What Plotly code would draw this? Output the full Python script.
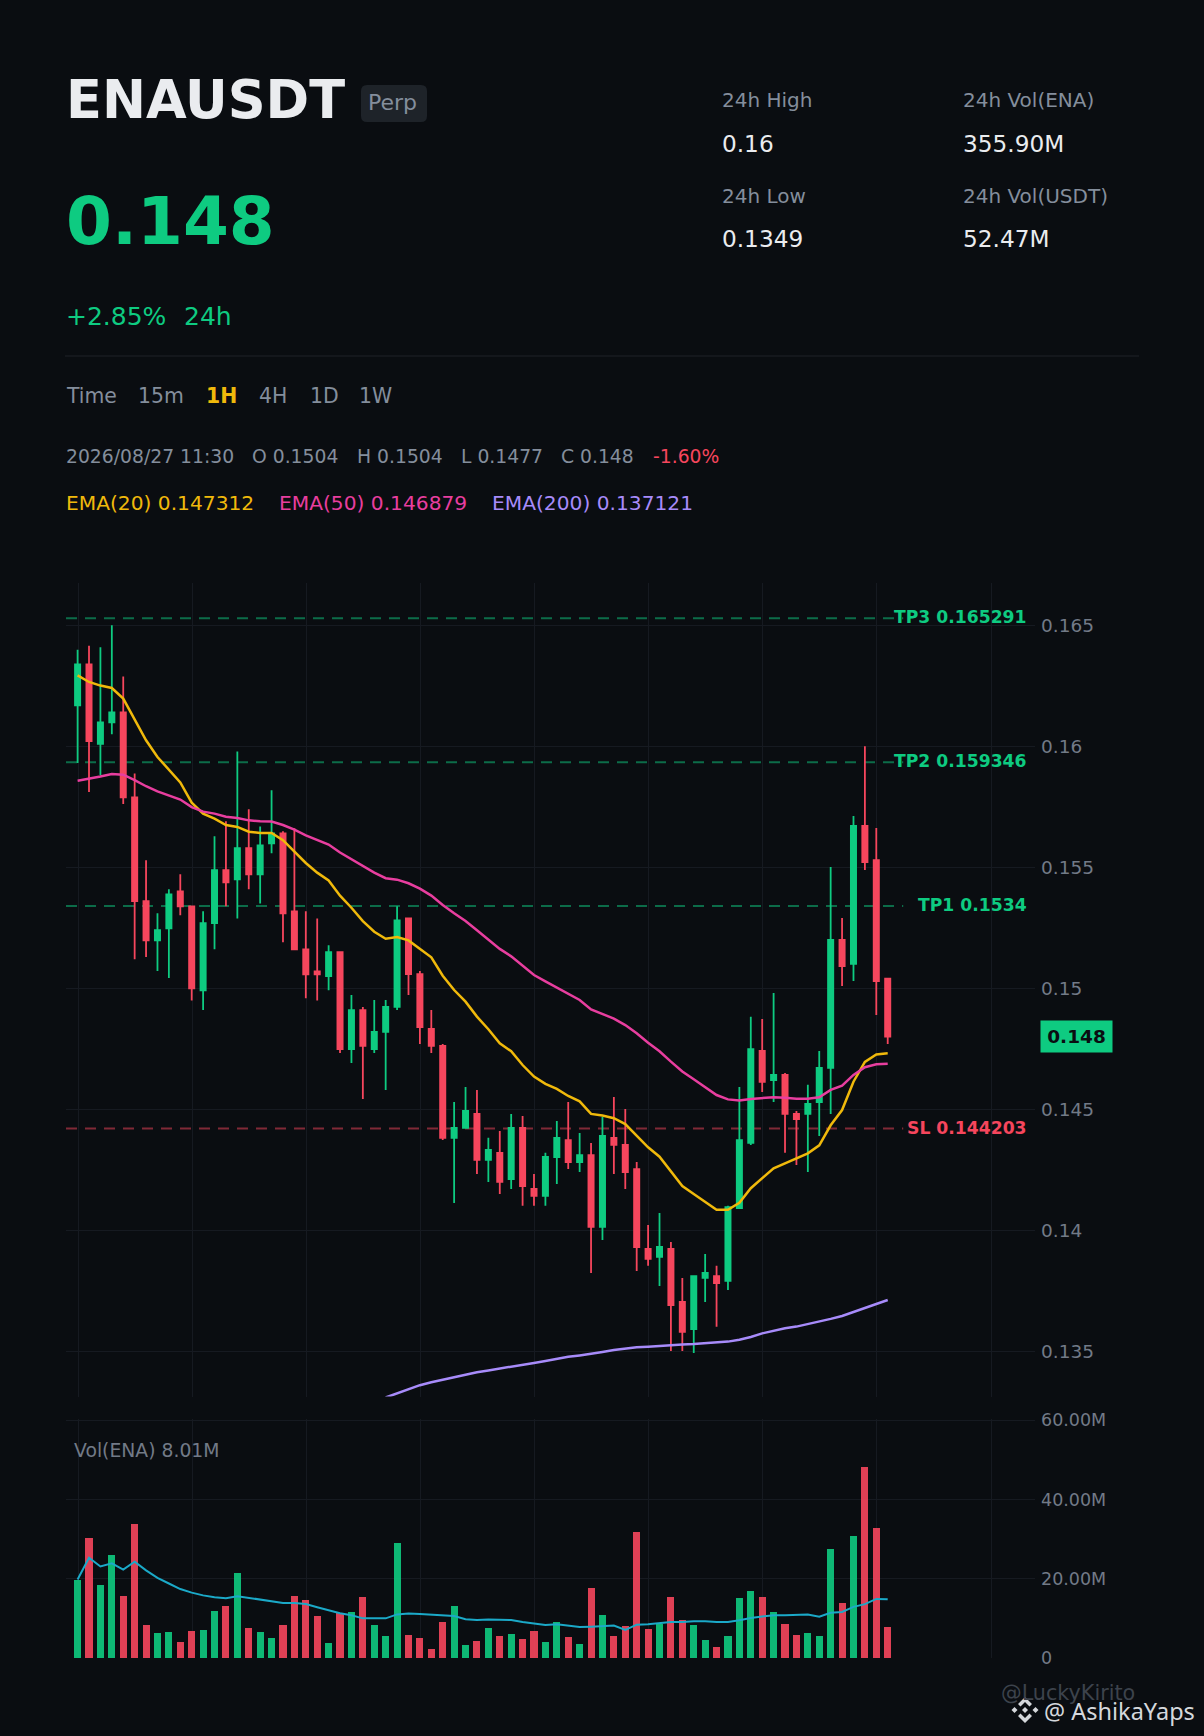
import plotly.graph_objects as go

W, H = 1204, 1736
idx = list(range(72))
opens = [.16169,.16339,.16010,.16099,.16140,.15789,.15360,.15198,.15248,.15401,.15339,.14992,.15269,.15488,.15450,.15579,.15471,.15599,.15640,.15318,.15161,.15070,.15050,.15149,
         .14749,.14910,.14749,.14820,.14923,.15289,.15059,.14832,.14762,.14382,.14423,.14481,.14291,.14320,.14212,.14423,.14171,.14142,.14303,.14373,.14282,.14311,.14014,.14382,
         .14353,.14253,.13923,.13890,.13923,.13704,.13592,.13803,.13811,.13791,.14092,.14361,.14741,.14621,.14642,.14481,.14481,.14530,.14671,.15200,.15101,.15671,.15530,.15040]
highs = [.16399,.16416,.16409,.16500,.16289,.15888,.15529,.15310,.15409,.15471,.15339,.15318,.15628,.15690,.15979,.15740,.15669,.15818,.15649,.15661,.15318,.15289,.15178,.15149,
         .14972,.14923,.14952,.14952,.15339,.15289,.15072,.14910,.14770,.14530,.14592,.14580,.14382,.14410,.14481,.14472,.14233,.14320,.14452,.14530,.14402,.14361,.14468,.14551,
         .14501,.14282,.14022,.14072,.13952,.13803,.13811,.13902,.13853,.14101,.14592,.14882,.14873,.14981,.14650,.14493,.14601,.14741,.15501,.15291,.15712,.16000,.15663,.15040]
lows = [.15931,.15811,.15880,.16050,.15762,.15120,.15129,.15072,.15043,.15302,.14950,.14910,.15161,.15339,.15289,.15409,.15351,.15558,.15190,.15161,.14959,.14950,.14992,.14733,
        .14691,.14543,.14733,.14580,.14910,.14972,.14770,.14733,.14373,.14113,.14423,.14233,.14200,.14150,.14171,.14101,.14101,.14101,.14191,.14253,.14241,.13824,.13960,.14233,
        .14171,.13832,.13853,.13770,.13501,.13501,.13493,.13704,.13601,.13753,.14092,.14353,.14572,.14530,.14320,.14270,.14241,.14390,.14481,.15010,.15030,.15489,.14890,.14770]
closes = [.16339,.16022,.16099,.16140,.15789,.15360,.15198,.15240,.15388,.15339,.15000,.15269,.15488,.15438,.15579,.15471,.15591,.15640,.15310,.15161,.15058,.15058,.15149,.14749,
          .14910,.14762,.14820,.14923,.15281,.15059,.14840,.14762,.14382,.14423,.14493,.14291,.14332,.14200,.14423,.14183,.14142,.14303,.14382,.14282,.14311,.14014,.14390,.14353,
          .14241,.13931,.13882,.13931,.13691,.13580,.13811,.13824,.13782,.14096,.14373,.14749,.14613,.14642,.14481,.14460,.14522,.14671,.15200,.15092,.15671,.15522,.15030,.14800]
ema20 = [.16293,.16266,.16251,.16241,.16197,.16112,.16025,.15956,.15905,.15851,.15767,.15722,.15701,.15675,.15667,.15647,.15642,.15642,.15612,.15563,.15518,.15478,.15446,.15383,
         .15333,.15278,.15234,.15205,.15212,.15198,.15164,.15128,.15052,.14993,.14945,.14883,.14831,.14773,.14740,.14683,.14635,.14605,.14584,.14555,.14533,.14481,.14474,.14463,
         .14439,.14393,.14343,.14304,.14244,.14183,.14150,.14117,.14085,.14085,.14114,.14174,.14215,.14256,.14277,.14298,.14318,.14351,.14434,.14497,.14614,.14696,.14727,.147312]
ema50 = [.15858,.15865,.15875,.15886,.15883,.15860,.15835,.15814,.15798,.15780,.15749,.15730,.15722,.15709,.15704,.15694,.15690,.15689,.15675,.15656,.15632,.15612,.15594,.15561,
         .15534,.15504,.15478,.15455,.15449,.15434,.15412,.15383,.15344,.15310,.15278,.15240,.15202,.15163,.15132,.15094,.15055,.15029,.15004,.14977,.14952,.14913,.14894,.14875,
         .14848,.14814,.14775,.14740,.14697,.14656,.14624,.14592,.14559,.14541,.14536,.14543,.14545,.14550,.14548,.14544,.14544,.14550,.14580,.14598,.14642,.14674,.14686,.146879]
ema200_idx = list(range(27, 72))
ema200 = [.13309,.13325,.13343,.13360,.13372,.13383,.13394,.13404,.13413,.13421,.13428,.13438,.13445,.13452,.13460,.13470,.13477,.13483,.13489,.13497,.13505,.13512,.13517,.13519,
          .13523,.13526,.13528,.13530,.13534,.13536,.13540,.13548,.13559,.13574,.13585,.13595,.13602,.13612,.13621,.13634,.13646,.13663,.13679,.13696,.137121]
volumes = [19.8,30.5,18.6,26.2,15.8,34.0,8.5,6.5,6.7,4.2,7.0,7.2,12.0,13.3,21.6,7.7,6.7,5.2,8.5,15.8,14.8,10.8,4.0,11.5,
           11.8,15.6,8.5,5.7,29.0,6.0,5.2,2.4,9.3,13.3,3.5,4.5,7.7,5.7,6.2,5.0,7.0,4.2,9.3,5.5,3.7,17.8,11.0,5.7,
           8.2,32.0,7.5,8.8,15.6,9.8,8.5,4.7,2.9,5.7,15.3,17.1,15.6,11.8,8.8,6.0,6.5,5.7,27.7,14.1,31.0,48.4,33.0,8.01]
vol_ma = [19.8,25.3,23.1,23.9,22.3,24.3,22.1,20.2,18.8,17.4,16.5,15.8,15.3,15.1,15.6,15.2,14.7,14.3,13.9,13.9,13.6,12.8,12.0,11.3,
          10.8,10.0,10.0,10.0,11.0,11.2,11.1,10.9,10.7,10.6,9.8,9.6,9.7,9.7,9.6,9.1,8.7,8.3,8.5,8.2,7.8,7.9,8.1,8.2,
          7.1,8.4,8.5,8.8,9.1,9.1,9.3,9.3,9.1,9.1,9.5,10.1,10.5,10.8,10.8,10.9,11.0,10.4,11.4,11.6,12.9,13.6,14.9,14.8]
level_names = ["TP3", "TP2", "TP1", "SL"]
level_values = [0.165291, 0.159346, 0.1534, 0.144203]
level_text = ["0.165291", "0.159346", "0.1534", "0.144203"]
price_ticks = [0.135, 0.14, 0.145, 0.15, 0.155, 0.16, 0.165]
price_tick_labels = ["0.135", "0.14", "0.145", "0.15", "0.155", "0.16", "0.165"]
vol_ticks = [0, 20, 40, 60]
vol_tick_labels = ["0", "20.00M", "40.00M", "60.00M"]
x_grid = [0.06, 10.06, 20.06, 30.06, 40.06, 50.06, 60.06, 70.06, 80.06]
last_price = 0.148

BG = "#0A0D11"; GRID = "#161A21"
GREEN = "#0ECB81"; RED = "#F6465D"; GOLD = "#F0B90B"; PINK = "#E83E9F"; PURPLE = "#A78BFA"; CYAN = "#1BA9C8"
MUTED = "#848E9C"; FAINT = "#727A87"; LIGHT = "#EAECEF"
FONT = "DejaVu Sans"

fig = go.Figure()
fig.add_trace(go.Candlestick(
    x=idx, open=opens, high=highs, low=lows, close=closes, whiskerwidth=0,
    increasing=dict(line=dict(color=GREEN, width=1.8), fillcolor=GREEN),
    decreasing=dict(line=dict(color=RED, width=1.8), fillcolor=RED),
    showlegend=False, xaxis="x", yaxis="y"))
for name, ys, xs, col in [("EMA(20)", ema20, idx, GOLD), ("EMA(50)", ema50, idx, PINK), ("EMA(200)", ema200, ema200_idx, PURPLE)]:
    fig.add_trace(go.Scatter(x=xs, y=ys, mode="lines", name=name, line=dict(color=col, width=2.5), showlegend=False, xaxis="x", yaxis="y"))
fig.add_trace(go.Bar(
    x=idx, y=volumes, width=0.62, showlegend=False, xaxis="x2", yaxis="y2",
    marker=dict(color=[GREEN if c >= o else RED for o, c in zip(opens, closes)], opacity=0.9, line=dict(width=0))))
fig.add_trace(go.Scatter(x=idx, y=vol_ma, mode="lines", line=dict(color=CYAN, width=2), showlegend=False, xaxis="x2", yaxis="y2"))

def px(x): return x / W
def py(y): return 1 - y / H

ann = []
def text(x, base, s, size, color, bold=False, anchor="left", family=FONT):
    # positioned by baseline in page pixels
    ann.append(dict(xref="paper", yref="paper", x=px(x), y=py(base - 0.36 * size), xanchor=anchor, yanchor="middle",
                    text=f"<b>{s}</b>" if bold else s, showarrow=False, borderpad=0, borderwidth=0,
                    font=dict(family=family, size=size, color=color)))

text(66, 118, "ENAUSDT", 52.6, LIGHT, bold=True)
text(367.5, 110.5, "Perp", 22, MUTED)
text(66, 245.5, "0.148", 66, GREEN, bold=True)
text(66, 325.5, "+2.85%", 25, GREEN)
text(183.5, 325.5, "24h", 25, GREEN)
for x, lab, val, base1, base2 in [(722, "24h High", "0.16", 107, 152), (722, "24h Low", "0.1349", 203, 247),
                                  (963, "24h Vol(ENA)", "355.90M", 107, 152), (963, "24h Vol(USDT)", "52.47M", 203, 247)]:
    text(x, base1, lab, 20, MUTED)
    text(x, base2, val, 23.2, LIGHT)
for x, s, col, b in [(65.5, "Time", MUTED, False), (138, "15m", MUTED, False), (205.5, "1H", GOLD, True), (259, "4H", MUTED, False),
                     (310, "1D", MUTED, False), (359, "1W", MUTED, False)]:
    text(x, 403.5, s, 20.4, col, bold=b)
for x, s, col in [(66, "2026/08/27 11:30", MUTED), (252, "O 0.1504", MUTED), (357, "H 0.1504", MUTED), (461, "L 0.1477", MUTED),
                  (561, "C 0.148", MUTED), (653, "-1.60%", RED)]:
    text(x, 463, s, 18.75, col)
for x, s, col in [(66, "EMA(20) 0.147312", GOLD), (279, "EMA(50) 0.146879", PINK), (492, "EMA(200) 0.137121", PURPLE)]:
    text(x, 510, s, 20.2, col)
text(74, 1457, "Vol(ENA) 8.01M", 18.8, FAINT)
text(1001, 1700, "@LuckyKirito", 20.7, "#3D434C")
text(1044, 1719, "@ AshikaYaps", 23.5, "#D5D8DC", family="Noto Sans")

def rounded(x0, y0, x1, y1, r):
    pts = (f"M{px(x0+r)},{py(y0)} L{px(x1-r)},{py(y0)} Q{px(x1)},{py(y0)} {px(x1)},{py(y0+r)} "
           f"L{px(x1)},{py(y1-r)} Q{px(x1)},{py(y1)} {px(x1-r)},{py(y1)} L{px(x0+r)},{py(y1)} "
           f"Q{px(x0)},{py(y1)} {px(x0)},{py(y1-r)} L{px(x0)},{py(y0+r)} Q{px(x0)},{py(y0)} {px(x0+r)},{py(y0)} Z")
    return dict(type="path", xref="paper", yref="paper", path=pts, line=dict(width=0), fillcolor="#1E2329")

shapes = [
    dict(type="line", xref="paper", yref="paper", x0=px(65), x1=px(1139), y0=py(356), y1=py(356), line=dict(color="#1E2329", width=1)),
    rounded(361, 85, 427, 122, 6),
]
for name, v, t in zip(level_names, level_values, level_text):
    col = RED if name == "SL" else GREEN
    shapes.append(dict(type="line", xref="x domain", yref="y", x0=0, x1=0.864, y0=v, y1=v, layer="below", opacity=0.5,
                       line=dict(color=col, width=2, dash="11px,8px")))
    ann.append(dict(xref="paper", yref="y", x=px(1028), y=v, xanchor="right", yanchor="middle", yshift=1,
                    text=f"<b>{name} {t}</b>", showarrow=False, borderpad=0, font=dict(family=FONT, size=17.2, color=col)))
ann.append(dict(xref="paper", yref="y", x=px(1076.5), y=last_price, xanchor="center", yanchor="middle", width=71, height=31,
                text=f"<b>{last_price}</b>", showarrow=False, borderpad=0, bgcolor=GREEN, font=dict(family=FONT, size=18.5, color="#0A0D11")))

# Binance mark beside the watermark
lc, lt = 1025, 1710
def poly(points):
    p = "M" + " L".join(f"{px(lc+a)},{py(lt+b)}" for a, b in points) + " Z"
    return dict(type="path", xref="paper", yref="paper", path=p, line=dict(width=0), fillcolor="#D5D8DC")
for cx, r in [(0, 3), (-10.5, 3), (10.5, 3)]:
    shapes.append(poly([(cx - r, 0), (cx, -r), (cx + r, 0), (cx, r)]))
for s in (-1, 1):
    shapes.append(poly([(0, 13 * s), (7, 6 * s), (4.5, 3.5 * s), (0, 8 * s), (-4.5, 3.5 * s), (-7, 6 * s)]))

x_range = [(66 - 77.6) / 11.41, (1035 - 77.6) / 11.41]
fig.update_layout(
    width=W, height=H, margin=dict(l=0, r=0, t=0, b=0, pad=0, autoexpand=False), autosize=False,
    paper_bgcolor=BG, plot_bgcolor=BG, font=dict(family=FONT), showlegend=False, hovermode=False,
    boxgap=0.544, boxgroupgap=0, bargap=0,
    xaxis=dict(domain=[px(66), px(1035)], range=x_range, tickvals=x_grid, showticklabels=False, showgrid=True, gridcolor=GRID, gridwidth=1,
               zeroline=False, rangeslider=dict(visible=False), anchor="y"),
    yaxis=dict(domain=[py(1396.5), py(582.5)], range=[0.133132, 0.16677], side="right", anchor="x", tickvals=price_ticks, ticktext=price_tick_labels,
               showgrid=True, gridcolor=GRID, gridwidth=1, showline=False, zeroline=False, ticks="",
               tickfont=dict(family=FONT, size=18.5, color=FAINT), ticklabelstandoff=5),
    xaxis2=dict(domain=[px(66), px(1035)], range=x_range, tickvals=x_grid, showticklabels=False, showgrid=True, gridcolor=GRID, gridwidth=1,
                zeroline=False, anchor="y2"),
    yaxis2=dict(domain=[py(1658), py(1418.6)], range=[0, 60.4], side="right", anchor="x2", tickvals=vol_ticks, ticktext=vol_tick_labels,
                showgrid=True, gridcolor=GRID, gridwidth=1, showline=False, zeroline=False, ticks="",
                tickfont=dict(family=FONT, size=17.5, color=FAINT), ticklabelstandoff=5),
    annotations=ann, shapes=shapes,
)
fig.write_html("out.html", config=dict(displayModeBar=False),
               post_script="document.body.style.margin='0';document.body.style.overflow='hidden';document.body.style.background='#0A0D11';")
